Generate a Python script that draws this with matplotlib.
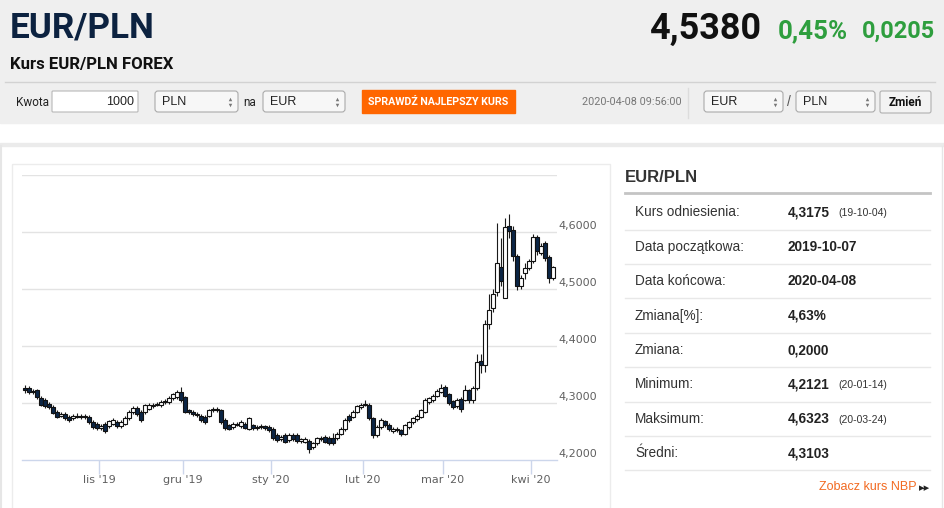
import matplotlib
matplotlib.use('Agg')
import matplotlib.pyplot as plt
from matplotlib.patches import Rectangle, FancyBboxPatch
import pandas as pd

# --- dane: EUR/PLN, swiece dzienne (dni robocze 2019-10-07 .. 2020-04-08)
dates = pd.bdate_range('2019-10-07', '2020-04-08')

# paz / lis / gru / sty / lut / mar / kwi
opn = [
    4.326, 4.326, 4.319, 4.322, 4.309, 4.305, 4.299, 4.293, 4.284, 4.278,
    4.281, 4.276, 4.273, 4.276, 4.278, 4.275, 4.276, 4.267, 4.264,
    4.256, 4.264, 4.260, 4.264, 4.267, 4.260, 4.264, 4.273, 4.284, 4.291,
    4.284, 4.284, 4.290, 4.295, 4.297, 4.296, 4.302, 4.302, 4.308, 4.310, 4.319,
    4.310, 4.287, 4.284, 4.281, 4.278, 4.276, 4.278, 4.287, 4.290, 4.287,
    4.270, 4.261, 4.258, 4.264, 4.260, 4.264, 4.255, 4.261, 4.256, 4.258,
    4.259, 4.258,
    4.255, 4.244, 4.236, 4.244, 4.235, 4.244, 4.244, 4.233, 4.232, 4.233,
    4.222, 4.229, 4.236, 4.241, 4.239, 4.239, 4.238, 4.246, 4.254, 4.278,
    4.276, 4.285, 4.293,
    4.297, 4.297, 4.273, 4.244, 4.258, 4.268, 4.262, 4.251, 4.255, 4.252,
    4.246, 4.258, 4.266, 4.272, 4.276, 4.285, 4.302, 4.305, 4.313, 4.320,
    4.328, 4.315, 4.303, 4.295, 4.307, 4.306, 4.322, 4.305, 4.326, 4.374,
    4.366, 4.439, 4.467, 4.494, 4.538, 4.485, 4.610, 4.604, 4.558, 4.505,
    4.528, 4.537,
    4.549, 4.591, 4.563, 4.581, 4.556, 4.519,
]
close = [
    4.322, 4.319, 4.321, 4.310, 4.297, 4.295, 4.293, 4.283, 4.276, 4.281,
    4.274, 4.270, 4.278, 4.278, 4.275, 4.277, 4.267, 4.258, 4.256,
    4.260, 4.251, 4.268, 4.270, 4.260, 4.267, 4.274, 4.284, 4.291, 4.281,
    4.270, 4.296, 4.297, 4.297, 4.299, 4.302, 4.304, 4.309, 4.315, 4.319, 4.305,
    4.285, 4.284, 4.281, 4.279, 4.270, 4.267, 4.287, 4.290, 4.288, 4.267,
    4.256, 4.255, 4.264, 4.262, 4.267, 4.257, 4.273, 4.256, 4.258, 4.260,
    4.256, 4.252,
    4.238, 4.235, 4.240, 4.232, 4.244, 4.236, 4.233, 4.236, 4.237, 4.219,
    4.229, 4.238, 4.239, 4.232, 4.229, 4.229, 4.246, 4.255, 4.270, 4.270,
    4.285, 4.294, 4.297,
    4.298, 4.273, 4.244, 4.258, 4.270, 4.261, 4.254, 4.255, 4.252, 4.245,
    4.261, 4.266, 4.273, 4.278, 4.287, 4.305, 4.308, 4.313, 4.321, 4.326,
    4.313, 4.300, 4.293, 4.305, 4.290, 4.322, 4.305, 4.326, 4.372, 4.366,
    4.439, 4.463, 4.492, 4.546, 4.514, 4.608, 4.602, 4.558, 4.505, 4.520,
    4.537, 4.549,
    4.591, 4.566, 4.575, 4.555, 4.519, 4.538,
]
high = [
    4.331, 4.329, 4.324, 4.325, 4.312, 4.308, 4.302, 4.296, 4.288, 4.284,
    4.284, 4.279, 4.281, 4.282, 4.281, 4.280, 4.279, 4.270, 4.267,
    4.263, 4.267, 4.271, 4.273, 4.270, 4.270, 4.277, 4.288, 4.295, 4.294,
    4.287, 4.299, 4.300, 4.300, 4.302, 4.305, 4.307, 4.312, 4.318, 4.322, 4.328,
    4.313, 4.290, 4.287, 4.284, 4.281, 4.279, 4.290, 4.293, 4.293, 4.290,
    4.273, 4.264, 4.267, 4.267, 4.270, 4.267, 4.276, 4.264, 4.261, 4.263,
    4.262, 4.261,
    4.258, 4.247, 4.243, 4.247, 4.247, 4.247, 4.247, 4.239, 4.240, 4.236,
    4.232, 4.241, 4.242, 4.244, 4.242, 4.247, 4.249, 4.258, 4.273, 4.281,
    4.288, 4.297, 4.300,
    4.306, 4.300, 4.276, 4.261, 4.273, 4.271, 4.265, 4.258, 4.258, 4.255,
    4.264, 4.269, 4.276, 4.281, 4.290, 4.309, 4.311, 4.316, 4.324, 4.334,
    4.332, 4.318, 4.306, 4.308, 4.310, 4.331, 4.325, 4.330, 4.386, 4.386,
    4.445, 4.492, 4.500, 4.616, 4.590, 4.625, 4.6323, 4.610, 4.562, 4.525,
    4.545, 4.553,
    4.597, 4.594, 4.581, 4.584, 4.560, 4.541,
]
low = [
    4.318, 4.316, 4.316, 4.307, 4.294, 4.292, 4.290, 4.280, 4.273, 4.275,
    4.271, 4.267, 4.270, 4.273, 4.272, 4.272, 4.264, 4.255, 4.253,
    4.253, 4.248, 4.257, 4.261, 4.257, 4.257, 4.261, 4.270, 4.281, 4.278,
    4.267, 4.281, 4.287, 4.292, 4.294, 4.293, 4.299, 4.299, 4.305, 4.307, 4.302,
    4.282, 4.281, 4.278, 4.276, 4.267, 4.264, 4.275, 4.284, 4.285, 4.264,
    4.253, 4.252, 4.255, 4.259, 4.257, 4.254, 4.252, 4.253, 4.253, 4.255,
    4.253, 4.249,
    4.235, 4.232, 4.233, 4.229, 4.232, 4.233, 4.230, 4.230, 4.229, 4.2121,
    4.219, 4.226, 4.233, 4.229, 4.226, 4.226, 4.235, 4.243, 4.251, 4.267,
    4.273, 4.282, 4.290,
    4.294, 4.270, 4.238, 4.241, 4.255, 4.258, 4.251, 4.248, 4.249, 4.242,
    4.243, 4.255, 4.263, 4.269, 4.273, 4.282, 4.299, 4.302, 4.310, 4.317,
    4.310, 4.297, 4.289, 4.292, 4.285, 4.303, 4.300, 4.300, 4.323, 4.352,
    4.355, 4.430, 4.460, 4.488, 4.505, 4.485, 4.590, 4.550, 4.498, 4.500,
    4.518, 4.533,
    4.545, 4.560, 4.560, 4.550, 4.511, 4.515,
]

month_starts = ['2019-11-01', '2019-12-01', '2020-01-01', '2020-02-01', '2020-03-01', '2020-04-01']
month_labels = ["lis '19", "gru '19", "sty '20", "lut '20", "mar '20", "kwi '20"]
y_ticks = [4.2, 4.3, 4.4, 4.5, 4.6]

table_labels = ['Kurs odniesienia:', 'Data początkowa:', 'Data końcowa:', 'Zmiana[%]:',
                'Zmiana:', 'Minimum:', 'Maksimum:', 'Średni:']
table_values = ['4,3175', '2019-10-07', '2020-04-08', '4,63%', '0,2000', '4,2121', '4,6323', '4,3103']
table_notes = ['(19-10-04)', '', '', '', '', '(20-01-14)', '(20-03-24)', '']

NARROW = ['Liberation Sans Narrow', 'Roboto', 'DejaVu Sans']
ARIAL = ['Liberation Sans', 'DejaVu Sans']
NAVY = '#0b2545'
GREEN = '#2e9e3e'
ORANGE = '#ff6600'

fig = plt.figure(figsize=(9.45, 5.08), dpi=100)
fig.patch.set_facecolor('white')
bg = fig.add_axes([0, 0, 1, 1])
bg.set_xlim(0, 945)
bg.set_ylim(508, 0)
bg.axis('off')
renderer = fig.canvas.get_renderer()


def txt(x, y, s, width=None, **kw):
    t = bg.text(x, y, s, **kw)
    if width:
        bb = t.get_window_extent(renderer)
        t.set_fontsize(t.get_fontsize() * width / bb.width)
    return t


def box(x, y, w, h, fc='white', ec='#b0b0b0', r=3):
    bg.add_patch(FancyBboxPatch((x, y), w, h, boxstyle='round,pad=0,rounding_size=%d' % r,
                                fc=fc, ec=ec, lw=0.8))


def select(x, w, label):
    box(x, 91, w, 21, fc='#f7f7f7', ec='#aaaaaa')
    txt(x + 7, 102, label, fontsize=9, family=ARIAL, color='#222', va='center')
    bg.plot([x + w - 8], [99], marker='^', ms=2.5, color='#777', mec='none')
    bg.plot([x + w - 8], [105], marker='v', ms=2.5, color='#777', mec='none')


# --- naglowek
bg.add_patch(Rectangle((0, 0), 945, 123, color='#efefef', zorder=0))
txt(10, 28, 'EUR/PLN', width=145, fontsize=28, family=NARROW, weight='bold', color='#0c2240', va='center')
txt(650, 29, '4,5380', width=112, fontsize=26, family=NARROW, weight='bold', color='#111', va='center')
txt(778, 31, '0,45%', width=70, fontsize=18, family=NARROW, weight='bold', color=GREEN, va='center')
txt(862, 31, '0,0205', width=73, fontsize=18, family=NARROW, weight='bold', color=GREEN, va='center')
txt(10, 65, 'Kurs EUR/PLN FOREX', width=164, fontsize=11, family=NARROW, weight='bold', color='#111', va='center')
bg.plot([5, 935], [82, 82], color='#d2d2d2', lw=1)

# --- pasek kontrolek
txt(16, 102, 'Kwota', fontsize=8.5, family=NARROW, color='#222', va='center')
box(52, 91, 86, 21, fc='white', ec='#b8b8b8', r=1)
txt(134, 102, '1000', fontsize=9, family=ARIAL, color='#222', va='center', ha='right')
select(155, 83, 'PLN')
txt(243, 102, 'na', fontsize=8.5, family=NARROW, color='#222', va='center')
select(263, 82, 'EUR')
bg.add_patch(Rectangle((362, 90), 153, 23, color=ORANGE))
txt(438.5, 102, 'SPRAWDŹ NAJLEPSZY KURS', width=140, fontsize=8, family=NARROW, weight='bold',
    color='white', va='center', ha='center')
txt(582, 102, '2020-04-08 09:56:00', width=99, fontsize=7.5, family=NARROW, color='#777', va='center')
bg.plot([688, 688], [88, 118], color='#dcdcdc', lw=1)
select(704, 79, 'EUR')
txt(789, 102, '/', fontsize=10, family=ARIAL, color='#555', va='center', ha='center')
select(796, 79, 'PLN')
box(880, 91, 51, 22, fc='#f3f3f3', ec='#b0b0b0', r=2)
txt(905.5, 102, 'Zmień', fontsize=8.5, family=NARROW, weight='bold', color='#111', va='center', ha='center')

# --- ramka panelu
bg.add_patch(Rectangle((0, 143), 945, 3, color='#ebebeb'))
bg.plot([1, 1], [146, 508], color='#e6e6e6', lw=1.5)
bg.plot([942, 942], [146, 508], color='#e6e6e6', lw=1)
bg.add_patch(Rectangle((12, 164), 598, 400, fill=False, ec='#ececec', lw=1))

# --- tabela po prawej
txt(625, 177, 'EUR/PLN', fontsize=12, family=ARIAL, weight='bold', color='#333', va='center')
bg.plot([625, 930], [193, 193], color='#c4c4c4', lw=2)
for k, (lab, val, note) in enumerate(zip(table_labels, table_values, table_notes)):
    yc = 212.5 + k * 34.4
    txt(635, yc, lab, fontsize=9.8, family=ARIAL, color='#333', va='center')
    txt(788, yc, val, fontsize=9.8, family=ARIAL, weight='bold', color='#222', va='center')
    if note:
        txt(838, yc + 1, note, fontsize=7.5, family=ARIAL, color='#333', va='center')
    bg.plot([625, 930], [yc + 17, yc + 17], color='#e8e8e8', lw=1)
txt(917, 487, 'Zobacz kurs NBP', fontsize=9, family=ARIAL, color='#f26a21', va='center', ha='right')
txt(925, 488, '▸▸', fontsize=8, family='DejaVu Sans', color='#222', va='center', ha='center')

# --- wykres swiecowy
ax = fig.add_axes([22 / 945, 1 - 460 / 508, (557 - 22) / 945, (460 - 175) / 508])
ax.set_facecolor('none')
x = list(range(len(close)))
ax.set_xlim((22 - 25) / 4, (557 - 25) / 4)
ax.set_ylim(4.2, 4.7)

body_col = [NAVY if c < o else 'white' for o, c in zip(opn, close)]
bottoms = [min(o, c) for o, c in zip(opn, close)]
heights = [max(abs(c - o), 0.0008) for o, c in zip(opn, close)]
ax.vlines(x, low, high, color='#1a1a1a', lw=0.8, zorder=3)
ax.bar(x, heights, bottom=bottoms, width=0.8, color=body_col, edgecolor='#111',
       linewidth=0.8, zorder=4)

for v in [4.3, 4.4, 4.5, 4.6, 4.7]:
    ax.axhline(v, color='#e3e3e3', lw=1, zorder=1)
for s in ['top', 'left', 'right']:
    ax.spines[s].set_visible(False)
ax.spines['bottom'].set_color('#ccd6eb')
ax.spines['bottom'].set_linewidth(1)

ax.set_yticks([])
for v in y_ticks:
    ax.text(1.003, v + 0.006, ('%.4f' % v).replace('.', ','), transform=ax.get_yaxis_transform(),
            fontsize=8, family='DejaVu Sans', color='#606060', va='baseline', ha='left')

tick_pos = [dates.searchsorted(pd.Timestamp(m)) - 0.5 for m in month_starts]
ax.set_xticks(tick_pos)
ax.set_xticklabels(month_labels, fontsize=8, family='DejaVu Sans', color='#606060')
ax.tick_params(axis='x', length=10, width=1, color='#ccd6eb', pad=1)

fig.savefig('out.png', dpi=100)
